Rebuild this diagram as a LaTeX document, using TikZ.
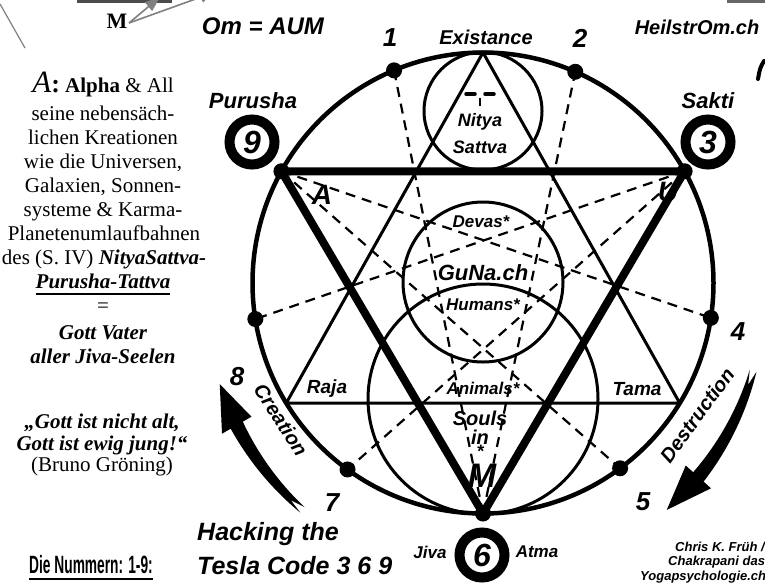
\documentclass[tikz,border=0pt]{standalone}
\usepackage{fontspec}
\setmainfont{Liberation Serif}
\newfontfamily\arialf{Liberation Sans}
\newfontfamily\condf{Liberation Sans}[FakeStretch=0.55]
\usetikzlibrary{calc,arrows.meta}
\newcommand\fsz[1]{\fontsize{#1}{#1}\selectfont}
\begin{document}
\begin{tikzpicture}[x=1pt,y=-1pt,
  lab/.style={inner sep=0pt, font=\arialf\bfseries\itshape},
  ser/.style={anchor=base, inner sep=0pt, font=\fsz{21}},
  ring/.style={circle, draw, line width=10pt, minimum size=45pt, inner sep=0pt, font=\arialf\bfseries\itshape\fsz{32}},
  dsh/.style={line width=2.2pt, dash pattern=on 10pt off 7pt},
  thinln/.style={line width=3pt},
  grayln/.style={draw=black!50, line width=1.6pt}
]
\useasboundingbox (0,0) rectangle (765,584);
\fill[white] (0,0) rectangle (765,584);

% ---------- geometry ----------
\coordinate (O) at (483,283);
\def\R{230.5}
\foreach \n/\a in {1/-112.7,2/-66.4,3/-29,4/8.7,5/53.5,6/90,7/126,8/171,9/-151}
  \coordinate (p\n) at ($(O)+(\a:\R)$);
\coordinate (top) at ($(O)+(-90:\R)$);
\coordinate (bl) at ($(O)+(148.6:\R)$);
\coordinate (br) at ($(O)+(31.4:\R)$);
\coordinate (cS) at (483,111);
\coordinate (cG) at (483,282);
\coordinate (cL) at (483,399);

% circles
\draw[line width=4.5pt] (O) circle[radius=230.5pt];
\draw[thinln] (cS) circle[radius=59pt];
\draw[thinln] (cG) circle[radius=80pt];
\draw[thinln] (cL) circle[radius=115pt];

% thin upward triangle
\draw[thinln, line join=round] (top) -- (bl) -- (br) -- cycle;
% dashed enneagram lines
\foreach \a/\b in {9/4,9/5,3/8,3/7,6/1,6/2}
  \draw[dsh] (p\a) -- (p\b);
% thick downward triangle
\draw[line width=8pt, line join=round] (p9) -- (p3) -- (p6) -- cycle;
% dots
\foreach \n in {1,...,9} \fill (p\n) circle[radius=8pt];

% face in small circle
\draw[line width=3.5pt, line cap=round] (466,94) -- (475,94);
\draw[line width=3.5pt, line cap=round] (485,94) -- (494,94);
\draw[line width=2.5pt] (480,98) -- (480,106);

% ---------- curved arrows ----------
\begin{scope}[shift={(483,283)}]
\fill plot[domain=18:42,samples=25] (\x:{284+(\x-18)*0.242+3.5+(\x-18)*0.146})
  -- (42:{284+24*0.242+17}) -- (51:292) -- (42:{284+24*0.242-17})
  -- plot[domain=42:18,samples=25] (\x:{284+(\x-18)*0.242-3.5-(\x-18)*0.146})
  -- (21:284) -- cycle;
\fill plot[domain=128.5:150,samples=25] (\x:{290-(\x-128.5)*0.262+3.5+(\x-128.5)*0.163})
  -- (150:{290-21.5*0.262+17}) -- (159:282) -- (150:{290-21.5*0.262-17})
  -- plot[domain=150:128.5,samples=25] (\x:{290-(\x-128.5)*0.262-3.5-(\x-128.5)*0.163})
  -- (131.5:290) -- cycle;
\end{scope}

% ---------- labels on the diagram ----------
\node[lab, font=\arialf\bfseries\itshape\fsz{24}] (om) at (263,26) {Om = AUM};
\node[lab, font=\arialf\bfseries\itshape\fsz{20}] (ex) at (486,37) {Existance};
\node[lab, font=\arialf\bfseries\itshape\fsz{20}] (hs) at (697,27) {HeilstrOm.ch};
\node[lab, font=\arialf\bfseries\itshape\fsz{26}] (n1) at (390,38) {1};
\node[lab, font=\arialf\bfseries\itshape\fsz{26}] (n2) at (580,38) {2};
\node[lab, font=\arialf\bfseries\itshape\fsz{26}] (n8) at (237,377) {8};
\node[lab, font=\arialf\bfseries\itshape\fsz{26}] (n4) at (738,332) {4};
\node[lab, font=\arialf\bfseries\itshape\fsz{26}] (n7) at (332,503) {7};
\node[lab, font=\arialf\bfseries\itshape\fsz{26}] (n5) at (643,502) {5};
\node[lab, font=\arialf\bfseries\itshape\fsz{22}] (pu) at (253,101) {Purusha};
\node[lab, font=\arialf\bfseries\itshape\fsz{22}] (sa) at (708,101) {Sakti};
\node[ring] (c9) at (252,142) {9};
\node[ring] (c3) at (708,142) {3};
\node[ring] (c6) at (482,555) {6};
\node[lab, font=\arialf\bfseries\itshape\fsz{17}] (jv) at (430,552) {Jiva};
\node[lab, font=\arialf\bfseries\itshape\fsz{17}] (at) at (537,552) {Atma};
\node[lab, font=\arialf\bfseries\itshape\fsz{18}] (ny) at (480,122) {Nitya};
\node[lab, font=\arialf\bfseries\itshape\fsz{18}] (sv) at (480,147) {Sattva};
\node[lab, font=\arialf\bfseries\itshape\fsz{28}] (la) at (322,195) {A};
\node[lab, font=\arialf\bfseries\itshape\fsz{28}] (lu) at (668,192) {U};
\node[lab, font=\arialf\bfseries\itshape\fsz{17}] (dv) at (481,222) {Devas*};
\node[lab, font=\arialf\bfseries\itshape\fsz{22}] (gn) at (483,273) {GuNa.ch};
\node[lab, font=\arialf\bfseries\itshape\fsz{17}] (hu) at (483,305) {Humans*};
\node[lab, font=\arialf\bfseries\itshape\fsz{17}] (an) at (483,388) {Animals*};
\node[lab, font=\arialf\bfseries\itshape\fsz{19}] (rj) at (327,389) {Raja};
\node[lab, font=\arialf\bfseries\itshape\fsz{19}] (tm) at (637,389) {Tama};
\node[lab, font=\arialf\bfseries\itshape\fsz{20}] (so) at (480,418) {Souls};
\node[lab, font=\arialf\bfseries\itshape\fsz{20}] (in) at (480,437) {in};
\node[lab, font=\arialf\bfseries\itshape\fsz{18}] (st) at (480,451) {*};
\node[lab, font=\arialf\bfseries\itshape\fsz{34}] (mm) at (482,476) {M};
\node[lab, font=\arialf\bfseries\itshape\fsz{20}, rotate=-57] (cr) at (281,420) {Creation};
\node[lab, font=\arialf\bfseries\itshape\fsz{20}, rotate=54] (de) at (697,415) {Destruction};
\node[lab, font=\arialf\bfseries\itshape\fsz{25}, anchor=west] (h1) at (197,534) {Hacking the};
\node[lab, font=\arialf\bfseries\itshape\fsz{25}, anchor=west] (h2) at (197,566) {Tesla Code 3 6 9};
\node[lab, font=\arialf\bfseries\itshape\fsz{13}, anchor=west] (k1) at (675,547) {Chris K. Früh /};
\node[lab, font=\arialf\bfseries\itshape\fsz{13}, anchor=west] (k2) at (668,562) {Chakrapani das};
\node[lab, font=\arialf\bfseries\itshape\fsz{13}, anchor=west] (k3) at (640,577) {Yogapsychologie.ch};

% partial letter at right edge
\draw[line width=4pt, line cap=round] (764,61) .. controls (760,68) .. (758,79);

% ---------- top-left fragments ----------
\fill[black!70] (77,0) rectangle (172,3);
\fill[black!60] (727,0) rectangle (765,3);
\coordinate (g1) at (0,4);
\coordinate (g2) at (25,48);
\draw[black!50, line width=1.2pt] (g1) -- (g2);
\node[inner sep=0pt, font=\bfseries\fsz{22}] (mt) at (117,21) {M};
\coordinate (ma) at (129,23);
\coordinate (mb) at (160,-3);
\coordinate (mc) at (215,-8);
\draw[grayln, -{Triangle[length=15pt,width=11pt]}] (ma) -- (mb);
\draw[grayln, -{Triangle[length=15pt,width=11pt]}] (ma) -- (mc);

% ---------- left text ----------
\node[ser] (t1) at (103,92) {{\fsz{31}\itshape A}{\fsz{26}\bfseries:} \textbf{Alpha} \& All};
\node[ser] (t2) at (103,120) {seine nebensäch-};
\node[ser] (t3) at (103,144) {lichen Kreationen};
\node[ser] (t4) at (103,168) {wie die Universen,};
\node[ser] (t5) at (103,192) {Galaxien, Sonnen-};
\node[ser] (t6) at (103,216) {systeme \& Karma-};
\node[ser] (t7) at (104,240) {Planetenumlaufbahnen};
\node[ser] (t8) at (104,264) {des (S. IV) \textbf{\textit{NityaSattva-}}};
\node[ser, font=\fsz{21}\bfseries\itshape] (t9) at (103,288) {Purusha-Tattva};
\draw[line width=2.5pt] ($(t9.base west)+(0,6)$) -- ($(t9.base east)+(0,6)$);
\node[ser] (t10) at (103,312) {=};
\node[ser, font=\fsz{21}\bfseries\itshape] (t11) at (103,339) {Gott Vater};
\node[ser, font=\fsz{21}\bfseries\itshape] (t12) at (103,363) {aller Jiva-Seelen};
\node[ser, font=\fsz{21}\bfseries\itshape] (q1) at (102,428) {„Gott ist nicht alt,};
\node[ser, font=\fsz{21}\bfseries\itshape] (q2) at (102,450) {Gott ist ewig jung!“};
\node[ser] (q3) at (102,471) {(Bruno Gröning)};
\node[ser, font=\condf\bfseries\fsz{25}] (dn) at (91,573) {Die Nummern: 1-9:};
\draw[line width=2pt] ($(dn.base west)+(0,6)$) -- ($(dn.base east)+(0,6)$);
\end{tikzpicture}
\end{document}
